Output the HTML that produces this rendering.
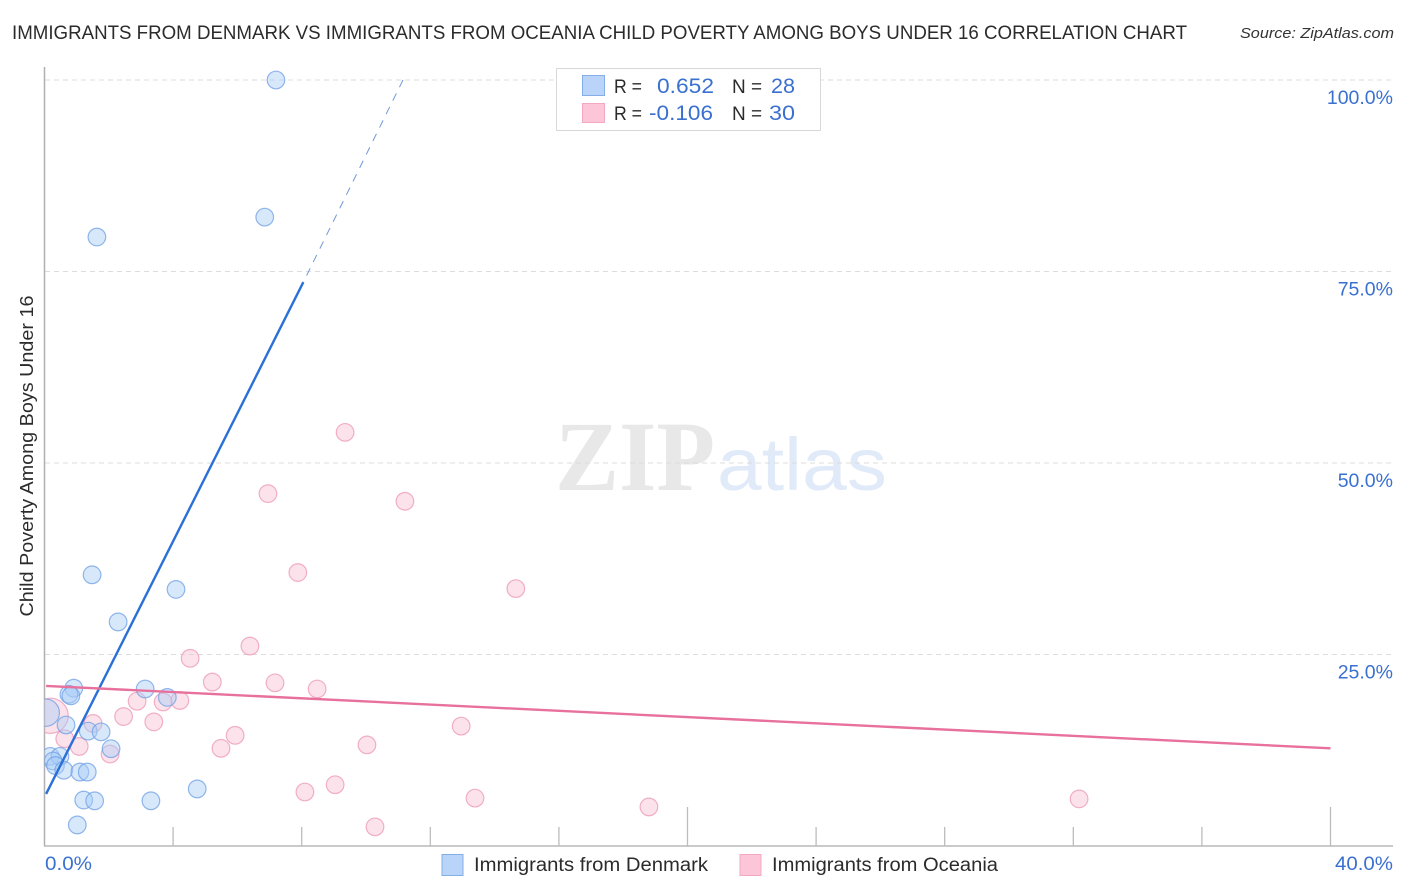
<!DOCTYPE html>
<html>
<head>
<meta charset="utf-8">
<title>Correlation chart</title>
<style>
html,body{margin:0;padding:0;background:#fff;width:1406px;height:892px;overflow:hidden}
svg{display:block;font-family:"Liberation Sans",sans-serif}
</style>
</head>
<body>
<svg id="chart" width="1406" height="892" viewBox="0 0 1406 892">
  <text x="12" y="39" font-size="19.5" fill="#2b2b2b" textLength="1175" lengthAdjust="spacingAndGlyphs">IMMIGRANTS FROM DENMARK VS IMMIGRANTS FROM OCEANIA CHILD POVERTY AMONG BOYS UNDER 16 CORRELATION CHART</text>
  <text x="1394" y="38" font-size="15" font-style="italic" fill="#333" text-anchor="end" textLength="154" lengthAdjust="spacingAndGlyphs">Source: ZipAtlas.com</text>

  <g id="watermark">
    <text x="555" y="490" font-family="'Liberation Serif',serif" font-size="100" font-weight="bold" fill="#e8e8e8" textLength="160" lengthAdjust="spacingAndGlyphs">ZIP</text>
    <text x="717" y="490" font-size="74" fill="#e0eaf8" textLength="170" lengthAdjust="spacingAndGlyphs">atlas</text>
  </g>

  <g id="grid"></g>
  <g id="axes"></g>
  <g id="marks"></g>

  <text transform="translate(33,456) rotate(-90)" font-size="18" fill="#2b2b2b" text-anchor="middle" textLength="321" lengthAdjust="spacingAndGlyphs">Child Poverty Among Boys Under 16</text>

  <g id="stats-legend">
    <rect x="556.5" y="68.5" width="264" height="62" fill="#fff" stroke="#d8d8d8"/>
    <rect x="582.5" y="75.5" width="22" height="20" fill="#b9d4f8" stroke="#85aee8"/>
    <rect x="582.5" y="103.5" width="22" height="19" fill="#fcc6d8" stroke="#f2a8c0"/>
    <text x="614" y="93" font-size="19" fill="#2b2b2b" textLength="28" lengthAdjust="spacingAndGlyphs">R =</text>
    <text x="714" y="93" font-size="21.5" fill="#3a70d0" text-anchor="end" textLength="57" lengthAdjust="spacingAndGlyphs">0.652</text>
    <text x="732" y="93" font-size="19" fill="#2b2b2b">N =</text>
    <text x="795" y="93" font-size="21.5" fill="#3a70d0" text-anchor="end" textLength="24" lengthAdjust="spacingAndGlyphs">28</text>
    <text x="614" y="120" font-size="19" fill="#2b2b2b" textLength="28" lengthAdjust="spacingAndGlyphs">R =</text>
    <text x="713" y="120" font-size="21.5" fill="#3a70d0" text-anchor="end" textLength="64" lengthAdjust="spacingAndGlyphs">-0.106</text>
    <text x="732" y="120" font-size="19" fill="#2b2b2b">N =</text>
    <text x="795" y="120" font-size="21.5" fill="#3a70d0" text-anchor="end" textLength="26" lengthAdjust="spacingAndGlyphs">30</text>
  </g>

  <g id="bottom-legend">
    <g>
      <rect x="442" y="854.5" width="21" height="21" fill="#b9d4f8" stroke="#85aee8"/>
      <text x="474" y="871" font-size="19" fill="#2b2b2b" textLength="234" lengthAdjust="spacingAndGlyphs">Immigrants from Denmark</text>
    </g>
    <g>
      <rect x="740" y="854.5" width="21" height="21" fill="#fcc6d8" stroke="#f2a8c0"/>
      <text x="772" y="871" font-size="19" fill="#2b2b2b" textLength="226" lengthAdjust="spacingAndGlyphs">Immigrants from Oceania</text>
    </g>
  </g>
</svg>
<script>
// Data values: x = immigrant share (%), y = child poverty (%)
const yTickValues = [100, 75, 50, 25];
const yTickLabels = ["100.0%", "75.0%", "50.0%", "25.0%"];
const xTickValues = [0, 4, 8, 12, 16, 20, 24, 28, 32, 36, 40];
const xMajorTicks = [20, 40];
const xEndLabels = ["0.0%", "40.0%"];

const denmarkX = [7.2, 6.85, 1.63, 1.48, 4.09, 2.29, 0.91, 0.76, 0.82, 3.13, 3.82, 0.67, 1.36, 1.76, 2.07, 0.18, 0.48, 0.27, 0.34, 0.6, 1.1, 1.33, 1.22, 1.56, 3.31, 4.75, 1.02, 0.04];
const denmarkY = [100, 82.1, 79.5, 35.4, 33.5, 29.25, 20.6, 19.8, 19.6, 20.5, 19.4, 15.8, 15.0, 14.9, 12.7, 11.7, 11.7, 11.1, 10.5, 9.9, 9.65, 9.65, 6.0, 5.9, 5.9, 7.45, 2.75, 17.4];
const denmarkWeight = [1, 1, 1, 1, 1, 1, 1, 1, 1, 1, 1, 1, 1, 1, 1, 1, 1, 1, 1, 1, 1, 1, 1, 1, 1, 1, 1, 2.4];

const oceaniaX = [4.53, 5.22, 6.39, 2.88, 2.46, 3.4, 3.69, 4.21, 1.51, 0.63, 1.08, 2.04, 5.49, 5.93, 0.19, 9.35, 6.95, 11.21, 7.88, 14.66, 7.17, 8.48, 12.96, 10.03, 8.1, 9.04, 13.39, 10.28, 18.8, 32.18];
const oceaniaY = [24.5, 21.4, 26.1, 18.9, 16.9, 16.2, 18.8, 19.0, 16.0, 14, 13.0, 12.0, 12.75, 14.45, 17, 54, 46.0, 45.0, 35.7, 33.6, 21.3, 20.5, 15.65, 13.2, 7.05, 8, 6.25, 2.5, 5.1, 6.15];
const oceaniaWeight = [1, 1, 1, 1, 1, 1, 1, 1, 1, 1, 1, 1, 1, 1, 4, 1, 1, 1, 1, 1, 1, 1, 1, 1, 1, 1, 1, 1, 1, 1];

const denmarkTrendX = [0.05, 8.05];
const denmarkTrendY = [6.8, 73.6];
const denmarkDashX = [11.15, 8.05];
const denmarkDashY = [100, 73.6];
const oceaniaTrendX = [0.05, 40];
const oceaniaTrendY = [20.9, 12.75];

const NS = "http://www.w3.org/2000/svg";
const xScale = v => 44.5 + v * 32.15;
const yScale = v => 846 - v * 7.66;
const rScale = w => 8.8 * Math.sqrt(w);

function make(tag, attrs, parent, text) {
  const el = document.createElementNS(NS, tag);
  for (const k in attrs) el.setAttribute(k, attrs[k]);
  if (text !== undefined) el.textContent = text;
  parent.appendChild(el);
  return el;
}

const grid = document.getElementById("grid");
const axes = document.getElementById("axes");
const marks = document.getElementById("marks");

yTickValues.forEach((v, i) => {
  const line = make("line", {x1: 45, x2: 1393, y1: yScale(v), y2: yScale(v), stroke: "#dcdcdc", "stroke-width": 1, "stroke-dasharray": "5 4"}, grid);
  
  
  const label = make("text", {x: 1393, y: yScale(v) + 24, "font-size": 19.5, fill: "#3a70d0", "text-anchor": "end"}, axes, yTickLabels[i]);
  
  
});

const yAxis = make("line", {x1: 44.5, x2: 44.5, y1: 67, y2: 846, stroke: "#b0b0b0", "stroke-width": 1.5}, axes);


const xAxis = make("line", {x1: 44, x2: 1393, y1: 846, y2: 846, stroke: "#b8b8b8", "stroke-width": 1.5}, axes);



xTickValues.slice(1).forEach(v => {
  const major = xMajorTicks.includes(v);
  const tick = make("line", {x1: xScale(v), x2: xScale(v), y1: major ? 807 : 827, y2: 846, stroke: "#bcbcbc", "stroke-width": 1.3}, axes);
  
  
});

const x0Label = make("text", {x: 45, y: 870, "font-size": 19.5, fill: "#3a70d0", textLength: 47, lengthAdjust: "spacingAndGlyphs"}, axes, xEndLabels[0]);


const x1Label = make("text", {x: 1393, y: 870, "font-size": 19.5, fill: "#3a70d0", "text-anchor": "end", textLength: 58, lengthAdjust: "spacingAndGlyphs"}, axes, xEndLabels[1]);



const clip = make("clipPath", {id: "plot-clip"}, marks);
make("rect", {x: 44.5, y: 60, width: 1350, height: 786}, clip);
const dotLayer = make("g", {"clip-path": "url(#plot-clip)"}, marks);

oceaniaX.forEach((x, i) => {
  const c = make("circle", {cx: xScale(x), cy: yScale(oceaniaY[i]), r: rScale(oceaniaWeight[i]), fill: "#f9bcd0", "fill-opacity": 0.42, stroke: "#ee9cb8", "stroke-opacity": 0.8, "stroke-width": 1.2}, dotLayer);
  
  
});
denmarkX.forEach((x, i) => {
  const c = make("circle", {cx: xScale(x), cy: yScale(denmarkY[i]), r: rScale(denmarkWeight[i]), fill: "#a9ccf6", "fill-opacity": 0.45, stroke: "#6d9fe4", "stroke-opacity": 0.75, "stroke-width": 1.2}, dotLayer);
  
  
});

const dash = make("line", {x1: xScale(denmarkDashX[0]), y1: yScale(denmarkDashY[0]), x2: xScale(denmarkDashX[1]), y2: yScale(denmarkDashY[1]), stroke: "#7097d8", "stroke-width": 1, "stroke-dasharray": "8 7"}, marks);


const blueTrend = make("line", {x1: xScale(denmarkTrendX[0]), y1: yScale(denmarkTrendY[0]), x2: xScale(denmarkTrendX[1]), y2: yScale(denmarkTrendY[1]), stroke: "#2a70d8", "stroke-width": 2.4}, marks);


const pinkTrend = make("line", {x1: xScale(oceaniaTrendX[0]), y1: yScale(oceaniaTrendY[0]), x2: xScale(oceaniaTrendX[1]), y2: yScale(oceaniaTrendY[1]), stroke: "#e8709c", "stroke-width": 2.4}, marks);


</script>
</body>
</html>
